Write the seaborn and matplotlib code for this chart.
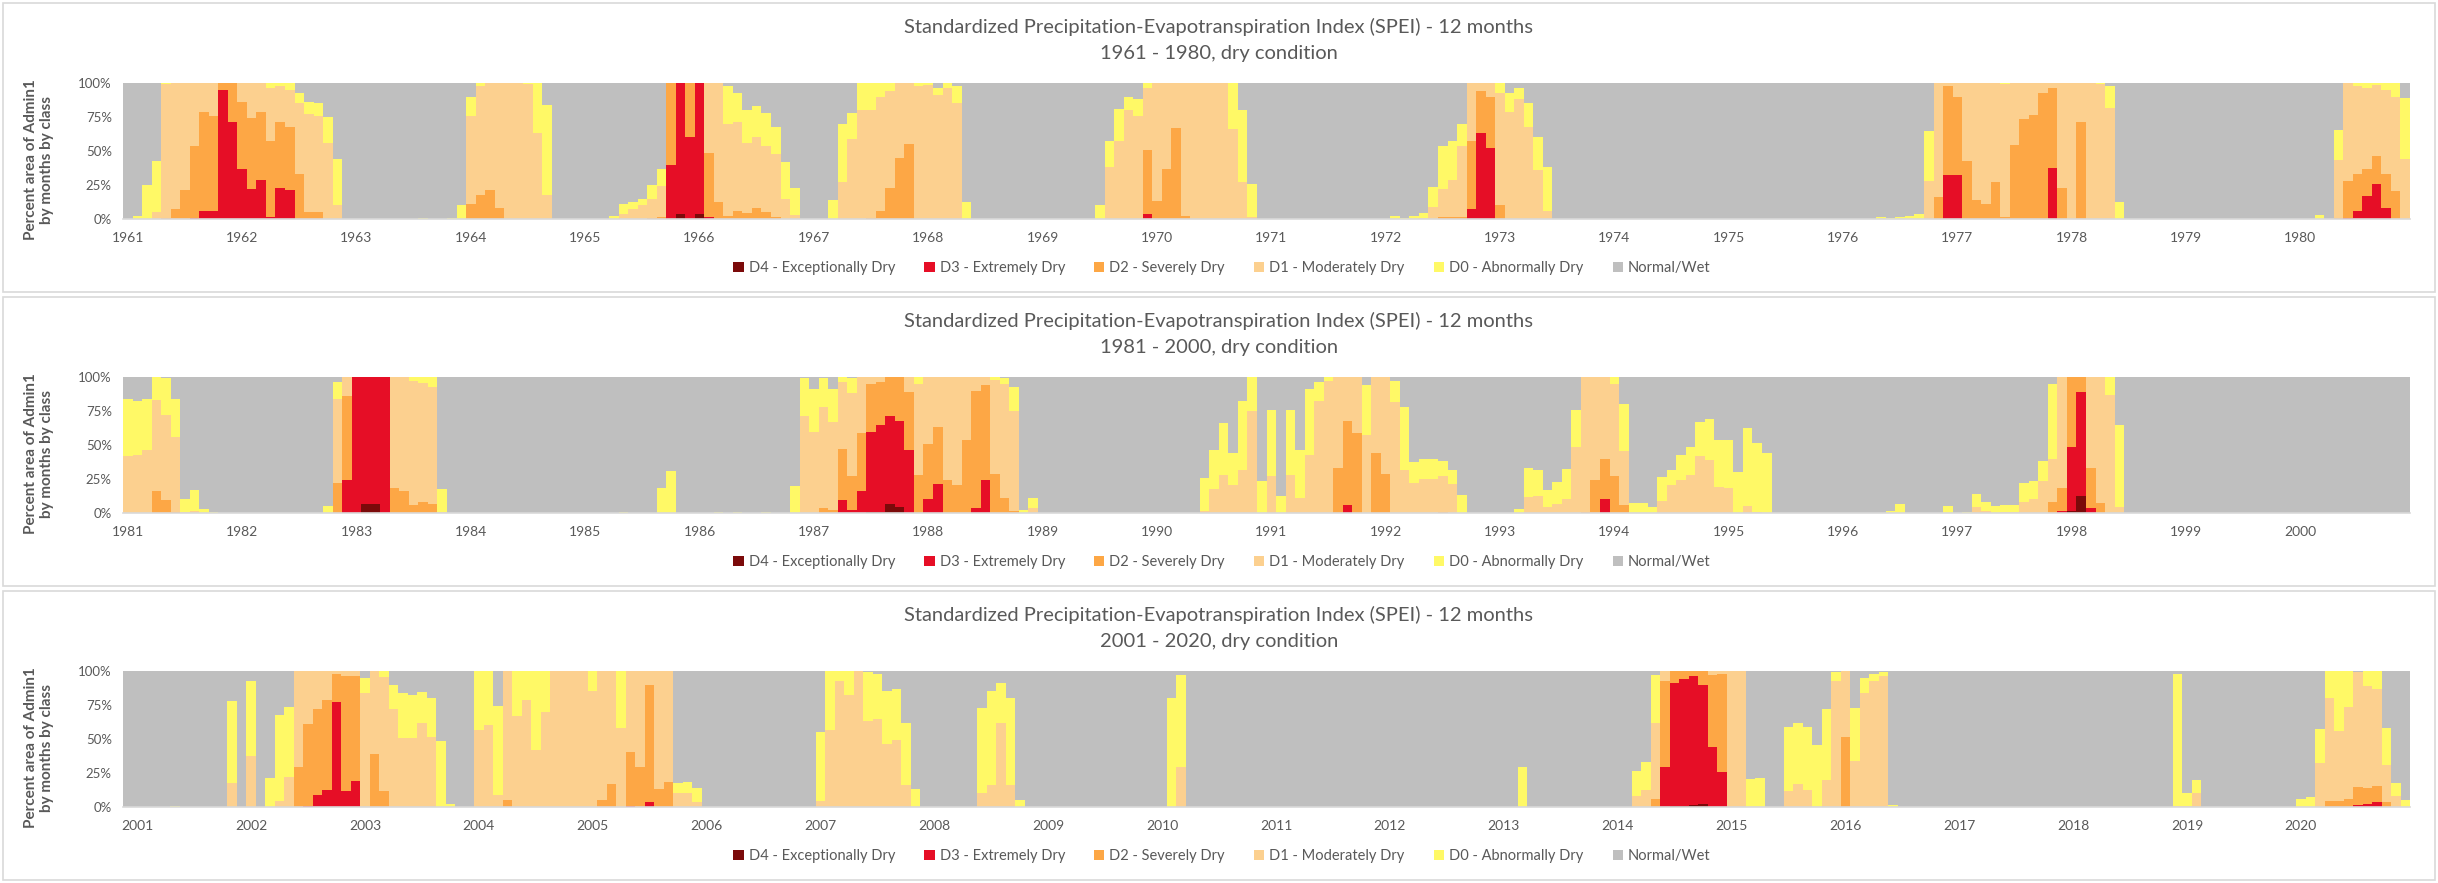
import numpy as np
import pandas as pd
import matplotlib
matplotlib.use("Agg")
import matplotlib.pyplot as plt
import seaborn as sns
from matplotlib.patches import Patch, Rectangle

# Percent of area by month. Each row: month, then share of area that is
# D0-or-drier, D1-or-drier, D2-or-drier, D3-or-drier, D4.
# Months not listed are 100% Normal/Wet.
dry_1961_1980 = [
    ("1961-02", 2, 0, 0, 0, 0), ("1961-03", 25, 0, 0, 0, 0), ("1961-04", 43, 5, 0, 0, 0),
    ("1961-05", 100, 99, 1, 0, 0), ("1961-06", 100, 100, 7, 0, 0), ("1961-07", 100, 100, 21, 0, 0),
    ("1961-08", 100, 100, 54, 1, 0), ("1961-09", 100, 100, 79, 6, 0), ("1961-10", 100, 100, 76, 6, 0),
    ("1961-11", 100, 100, 100, 95, 0), ("1961-12", 100, 100, 100, 71, 0),
    ("1962-01", 100, 100, 86, 37, 0), ("1962-02", 100, 100, 74, 22, 0), ("1962-03", 100, 100, 79, 29, 0),
    ("1962-04", 100, 96, 57, 1.5, 0), ("1962-05", 100, 98, 71, 23, 0), ("1962-06", 100, 95, 68, 21, 0),
    ("1962-07", 93, 85, 33, 0, 0), ("1962-08", 86, 77, 5, 0, 0), ("1962-09", 85, 76, 5, 0, 0),
    ("1962-10", 75, 56, 0, 0, 0), ("1962-11", 44, 10, 0, 0, 0),
    ("1963-08", 1, 0, 0, 0, 0), ("1963-11", 1, 0, 0, 0, 0), ("1963-12", 10, 0, 0, 0, 0),
    ("1964-01", 90, 76, 11, 0, 0), ("1964-02", 100, 98, 18, 0, 0), ("1964-03", 100, 100, 21, 0, 0),
    ("1964-04", 100, 100, 8, 0, 0), ("1964-05", 100, 100, 0, 0, 0), ("1964-06", 100, 100, 0, 0, 0),
    ("1964-07", 100, 99, 0, 0, 0), ("1964-08", 100, 63, 0, 0, 0), ("1964-09", 84, 18, 0, 0, 0),
    ("1965-04", 2, 0, 0, 0, 0), ("1965-05", 11, 4, 0, 0, 0), ("1965-06", 12.5, 7, 0, 0, 0),
    ("1965-07", 15, 10.5, 0, 0, 0), ("1965-08", 25, 15, 0.5, 0, 0), ("1965-09", 37, 24.5, 1.5, 0, 0),
    ("1965-10", 100, 100, 100, 40, 0), ("1965-11", 100, 100, 100, 100, 4), ("1965-12", 100, 100, 100, 60, 0),
    ("1966-01", 100, 100, 100, 100, 4), ("1966-02", 100, 100, 48.5, 1.5, 0), ("1966-03", 100, 100, 12.5, 0, 0),
    ("1966-04", 98, 70, 2, 0, 0), ("1966-05", 93, 71, 6, 0, 0), ("1966-06", 80, 56, 4.5, 0, 0),
    ("1966-07", 83, 60, 8, 0, 0), ("1966-08", 78, 54, 5, 0, 0), ("1966-09", 68, 48, 1.5, 0, 0),
    ("1966-10", 42, 15, 0, 0, 0), ("1966-11", 23, 3, 0, 0, 0),
    ("1967-03", 14, 0, 0, 0, 0), ("1967-04", 70, 27, 0, 0, 0), ("1967-05", 78, 59, 0, 0, 0),
    ("1967-06", 100, 80, 0, 0, 0), ("1967-07", 100, 80, 1, 0, 0), ("1967-08", 100, 90, 6, 0, 0),
    ("1967-09", 100, 94, 23, 0, 0), ("1967-10", 100, 100, 45, 0, 0), ("1967-11", 100, 100, 55, 0, 0),
    ("1967-12", 100, 98, 0, 0, 0),
    ("1968-01", 100, 98.5, 0, 0, 0), ("1968-02", 96, 91, 0, 0, 0), ("1968-03", 100, 96, 0, 0, 0),
    ("1968-04", 98, 85, 0, 0, 0), ("1968-05", 12.5, 0, 0, 0, 0),
    ("1969-07", 10, 0, 0, 0, 0), ("1969-08", 57, 38.5, 0, 0, 0), ("1969-09", 81, 57, 0, 0, 0),
    ("1969-10", 90, 80, 0, 0, 0), ("1969-11", 88, 76, 0, 0, 0), ("1969-12", 100, 96, 51, 4, 0),
    ("1970-01", 100, 100, 13, 0, 0), ("1970-02", 100, 100, 37, 0, 0), ("1970-03", 100, 100, 67, 0, 0),
    ("1970-04", 100, 100, 2, 0, 0), ("1970-05", 100, 100, 0, 0, 0), ("1970-06", 100, 100, 0, 0, 0),
    ("1970-07", 100, 100, 0, 0, 0), ("1970-08", 100, 100, 0, 0, 0), ("1970-09", 100, 66, 0, 0, 0),
    ("1970-10", 80, 27, 0, 0, 0), ("1970-11", 26, 1.5, 0, 0, 0),
    ("1972-02", 2, 0, 0, 0, 0), ("1972-03", 1, 0, 0, 0, 0), ("1972-04", 2, 0, 0, 0, 0),
    ("1972-05", 4.5, 1, 0, 0, 0), ("1972-06", 23.5, 9, 0, 0, 0), ("1972-07", 54, 22, 1.5, 0, 0),
    ("1972-08", 57.5, 29, 1.5, 0, 0), ("1972-09", 70, 54, 1.5, 0, 0), ("1972-10", 100, 100, 57, 7, 0),
    ("1972-11", 100, 100, 94, 63, 0), ("1972-12", 100, 100, 90, 52, 0),
    ("1973-01", 100, 93, 10, 0, 0), ("1973-02", 93, 79, 0, 0, 0), ("1973-03", 96, 88, 0, 0, 0),
    ("1973-04", 85, 68, 0, 0, 0), ("1973-05", 60, 36, 0, 0, 0), ("1973-06", 38, 6, 0, 0, 0),
    ("1976-05", 1.5, 0, 0, 0, 0), ("1976-06", 1, 0, 0, 0, 0), ("1976-07", 1.5, 0, 0, 0, 0),
    ("1976-08", 2, 0, 0, 0, 0), ("1976-09", 4, 0, 0, 0, 0), ("1976-10", 65, 28, 0, 0, 0),
    ("1976-11", 100, 100, 16, 0, 0), ("1976-12", 100, 100, 98, 32, 0),
    ("1977-01", 100, 100, 90, 32.5, 0), ("1977-02", 100, 100, 43, 0, 0), ("1977-03", 100, 100, 14, 0, 0),
    ("1977-04", 100, 100, 11, 0, 0), ("1977-05", 100, 100, 27, 0, 0), ("1977-06", 100, 99, 1.5, 0, 0),
    ("1977-07", 100, 100, 54.5, 0, 0), ("1977-08", 100, 100, 73.5, 0, 0), ("1977-09", 100, 100, 76.5, 0, 0),
    ("1977-10", 100, 100, 93, 0, 0), ("1977-11", 100, 100, 96, 37.5, 0), ("1977-12", 100, 100, 23, 0, 0),
    ("1978-01", 100, 100, 0, 0, 0), ("1978-02", 100, 100, 71, 0, 0), ("1978-03", 100, 100, 0, 0, 0),
    ("1978-04", 100, 99, 0, 0, 0), ("1978-05", 98, 81.5, 0, 0, 0), ("1978-06", 12.5, 0, 0, 0, 0),
    ("1980-03", 3, 0, 0, 0, 0), ("1980-05", 65.5, 43.5, 1, 0, 0), ("1980-06", 100, 100, 28, 1, 0),
    ("1980-07", 100, 98, 33, 6, 0), ("1980-08", 100, 96, 37, 17, 0), ("1980-09", 100, 98.5, 46, 26, 0),
    ("1980-10", 100, 95, 33, 8, 0), ("1980-11", 100, 90, 20.5, 0, 0), ("1980-12", 89, 44, 0, 0, 0),
]

dry_1981_2000 = [
    ("1981-01", 84, 42, 0, 0, 0), ("1981-02", 82, 43, 0, 0, 0), ("1981-03", 84, 46, 0, 0, 0),
    ("1981-04", 100, 83, 16, 0, 0), ("1981-05", 99, 72, 9.5, 0, 0), ("1981-06", 83.5, 56, 1, 0, 0),
    ("1981-07", 10, 1, 0, 0, 0), ("1981-08", 17, 1.5, 0, 0, 0), ("1981-09", 3, 0, 0, 0, 0),
    ("1981-10", 1, 0, 0, 0, 0),
    ("1982-10", 5, 0, 0, 0, 0), ("1982-11", 96, 83.5, 22, 0, 0), ("1982-12", 100, 100, 86, 24, 0),
    ("1983-01", 100, 100, 100, 100, 0), ("1983-02", 100, 100, 100, 100, 6.5), ("1983-03", 100, 100, 100, 100, 6.5),
    ("1983-04", 100, 100, 100, 100, 0), ("1983-05", 100, 100, 18.5, 0, 0), ("1983-06", 100, 100, 16, 0, 0),
    ("1983-07", 100, 97, 6, 0, 0), ("1983-08", 100, 95.5, 8, 0, 0), ("1983-09", 100, 92.5, 6.5, 0, 0),
    ("1983-10", 17.5, 1, 0, 0, 0),
    ("1985-05", 1, 0, 0, 0, 0), ("1985-09", 18.5, 0, 0, 0, 0), ("1985-10", 31, 0, 0, 0, 0),
    ("1986-03", 1, 0, 0, 0, 0), ("1986-05", 1, 0, 0, 0, 0), ("1986-08", 0.5, 0, 0, 0, 0),
    ("1986-11", 20, 0, 0, 0, 0), ("1986-12", 99, 71.5, 0, 0, 0),
    ("1987-01", 91, 59.5, 0, 0, 0), ("1987-02", 99, 78, 4, 0, 0), ("1987-03", 91, 67, 2, 0, 0),
    ("1987-04", 100, 96, 47, 9.5, 0), ("1987-05", 99, 88, 27, 2, 0), ("1987-06", 100, 100, 59, 16, 0),
    ("1987-07", 100, 100, 94.5, 59.5, 1), ("1987-08", 100, 100, 96, 64.5, 1), ("1987-09", 100, 100, 100, 71, 6.5),
    ("1987-10", 100, 100, 100, 68, 4.5), ("1987-11", 100, 100, 89, 46, 0), ("1987-12", 100, 94.5, 28, 0, 0),
    ("1988-01", 100, 100, 50.5, 10, 0), ("1988-02", 100, 100, 63, 21, 0), ("1988-03", 100, 100, 24, 0, 0),
    ("1988-04", 100, 100, 20.5, 0, 0), ("1988-05", 100, 100, 54, 0, 0), ("1988-06", 100, 100, 90, 3.5, 0),
    ("1988-07", 100, 100, 94, 24, 0), ("1988-08", 100, 98, 28.5, 0, 0), ("1988-09", 99, 94.5, 11, 0, 0),
    ("1988-10", 92.5, 75, 1.5, 0, 0), ("1988-11", 2, 0, 0, 0, 0), ("1988-12", 11, 3.5, 0, 0, 0),
    ("1990-06", 25.5, 1.5, 0, 0, 0), ("1990-07", 46, 17.5, 0, 0, 0), ("1990-08", 66, 28, 0, 0, 0),
    ("1990-09", 44, 20.5, 0, 0, 0), ("1990-10", 82, 31.5, 0, 0, 0), ("1990-11", 100, 75, 0, 0, 0),
    ("1990-12", 23.5, 0, 0, 0, 0),
    ("1991-01", 75.5, 27, 0, 0, 0), ("1991-02", 12.5, 0, 0, 0, 0), ("1991-03", 76, 28, 0, 0, 0),
    ("1991-04", 46, 11, 0, 0, 0), ("1991-05", 91, 43, 0, 0, 0), ("1991-06", 96, 82, 0, 0, 0),
    ("1991-07", 100, 97, 0, 0, 0), ("1991-08", 100, 100, 33, 0, 0), ("1991-09", 100, 100, 68, 6, 0),
    ("1991-10", 100, 100, 59, 0, 0), ("1991-11", 94, 57, 0, 0, 0), ("1991-12", 100, 100, 44, 0, 0),
    ("1992-01", 100, 100, 29, 0, 0), ("1992-02", 97, 81.5, 0, 0, 0), ("1992-03", 78, 31.5, 0, 0, 0),
    ("1992-04", 37.5, 22, 0, 0, 0), ("1992-05", 40, 25, 0, 0, 0), ("1992-06", 40, 25, 0, 0, 0),
    ("1992-07", 38, 27, 1, 0, 0), ("1992-08", 31.5, 21, 0, 0, 0), ("1992-09", 13, 0, 0, 0, 0),
    ("1993-03", 3, 0, 0, 0, 0), ("1993-04", 33, 12, 0, 0, 0), ("1993-05", 31.5, 12.5, 0, 0, 0),
    ("1993-06", 17, 4.5, 0, 0, 0), ("1993-07", 23, 6.5, 0, 0, 0), ("1993-08", 32, 10, 0, 0, 0),
    ("1993-09", 75.5, 48.5, 0, 0, 0), ("1993-10", 100, 100, 1, 0, 0), ("1993-11", 100, 100, 24, 0, 0),
    ("1993-12", 100, 100, 40, 10, 0),
    ("1994-01", 100, 94.5, 27, 0, 0), ("1994-02", 80.5, 45.5, 6, 0, 0), ("1994-03", 7.5, 0, 0, 0, 0),
    ("1994-04", 7.5, 0, 0, 0, 0), ("1994-05", 4.5, 0, 0, 0, 0), ("1994-06", 26.5, 9, 0, 0, 0),
    ("1994-07", 31.5, 20.5, 0, 0, 0), ("1994-08", 42.5, 24, 0, 0, 0), ("1994-09", 48.5, 28, 0, 0, 0),
    ("1994-10", 67, 42, 0, 0, 0), ("1994-11", 69, 39, 0, 0, 0), ("1994-12", 53.5, 19, 0, 0, 0),
    ("1995-01", 53.5, 18.5, 0, 0, 0), ("1995-02", 30, 0, 0, 0, 0), ("1995-03", 62.5, 5, 0, 0, 0),
    ("1995-04", 51.5, 1, 0, 0, 0), ("1995-05", 44, 0, 0, 0, 0),
    ("1996-06", 1.5, 0, 0, 0, 0), ("1996-07", 6.5, 0, 0, 0, 0), ("1996-12", 5, 0, 0, 0, 0),
    ("1997-02", 1, 0, 0, 0, 0), ("1997-03", 14, 4.5, 0, 0, 0), ("1997-04", 8, 1.5, 0, 0, 0),
    ("1997-05", 5, 0, 0, 0, 0), ("1997-06", 6, 1, 0, 0, 0), ("1997-07", 6, 1, 0, 0, 0),
    ("1997-08", 22, 8, 0, 0, 0), ("1997-09", 23.5, 10, 0, 0, 0), ("1997-10", 38, 23.5, 0, 0, 0),
    ("1997-11", 94.5, 40, 8, 0, 0), ("1997-12", 100, 100, 18.5, 1.5, 0),
    ("1998-01", 100, 100, 100, 48.5, 1.5), ("1998-02", 100, 100, 100, 89, 12.5), ("1998-03", 100, 100, 33, 3.5, 0),
    ("1998-04", 100, 100, 7.5, 0, 0), ("1998-05", 100, 86.5, 0, 0, 0), ("1998-06", 64.5, 4.5, 0, 0, 0),
]

dry_2001_2020 = [
    ("2001-05", 0.5, 0, 0, 0, 0), ("2001-11", 78, 18, 0, 0, 0),
    ("2002-01", 93, 37.5, 0, 0, 0), ("2002-03", 21.5, 0, 0, 0, 0), ("2002-04", 68, 4.5, 0, 0, 0),
    ("2002-05", 73.5, 22, 0, 0, 0), ("2002-06", 100, 100, 29.5, 0, 0), ("2002-07", 100, 100, 61, 1, 0),
    ("2002-08", 100, 100, 72, 8.5, 0), ("2002-09", 100, 100, 79, 12.5, 0), ("2002-10", 100, 100, 97.5, 77, 0),
    ("2002-11", 100, 100, 96, 12, 0), ("2002-12", 100, 100, 96, 19, 0),
    ("2003-01", 94.5, 83.5, 0, 0, 0), ("2003-02", 100, 100, 39, 0, 0), ("2003-03", 100, 95.5, 12, 0, 0),
    ("2003-04", 90, 72, 0, 0, 0), ("2003-05", 83.5, 51, 0, 0, 0), ("2003-06", 82, 51, 0, 0, 0),
    ("2003-07", 84.5, 61.5, 0, 0, 0), ("2003-08", 80, 51.5, 0, 0, 0), ("2003-09", 48.5, 0, 0, 0, 0),
    ("2003-10", 2.5, 0, 0, 0, 0),
    ("2004-01", 100, 56.5, 0, 0, 0), ("2004-02", 100, 60, 0, 0, 0), ("2004-03", 74, 9, 0, 0, 0),
    ("2004-04", 100, 100, 5.5, 0, 0), ("2004-05", 100, 67, 0, 0, 0), ("2004-06", 100, 79, 0, 0, 0),
    ("2004-07", 100, 42, 0, 0, 0), ("2004-08", 100, 70, 0, 0, 0), ("2004-09", 100, 100, 0, 0, 0),
    ("2004-10", 100, 100, 0, 0, 0), ("2004-11", 100, 100, 0, 0, 0), ("2004-12", 100, 100, 0, 0, 0),
    ("2005-01", 100, 85, 0, 0, 0), ("2005-02", 100, 100, 5, 0, 0), ("2005-03", 100, 100, 17, 0, 0),
    ("2005-04", 100, 58, 0, 0, 0), ("2005-05", 100, 100, 40.5, 1, 0), ("2005-06", 100, 100, 29.5, 0, 0),
    ("2005-07", 100, 100, 89.5, 4, 0), ("2005-08", 100, 100, 13.5, 0, 0), ("2005-09", 100, 100, 18.5, 0, 0),
    ("2005-10", 18, 10, 0, 0, 0), ("2005-11", 18.5, 10, 0, 0, 0), ("2005-12", 14, 4, 0, 0, 0),
    ("2007-01", 55, 4.5, 0, 0, 0), ("2007-02", 100, 56.5, 0, 0, 0), ("2007-03", 100, 93, 0, 0, 0),
    ("2007-04", 100, 82, 0, 0, 0), ("2007-05", 100, 100, 0, 0, 0), ("2007-06", 99, 63, 0, 0, 0),
    ("2007-07", 98, 64.5, 0, 0, 0), ("2007-08", 85, 46, 0, 0, 0), ("2007-09", 87, 49, 0, 0, 0),
    ("2007-10", 62, 16, 0, 0, 0), ("2007-11", 13, 0, 0, 0, 0),
    ("2008-06", 72.5, 10, 0, 0, 0), ("2008-07", 85, 16, 0, 0, 0), ("2008-08", 91.5, 62, 0, 0, 0),
    ("2008-09", 80.5, 16, 0, 0, 0), ("2008-10", 5, 0, 0, 0, 0),
    ("2010-02", 80.5, 0, 0, 0, 0), ("2010-03", 97, 29.5, 0, 0, 0),
    ("2013-03", 29.5, 0, 0, 0, 0),
    ("2014-03", 26.5, 8, 0, 0, 0), ("2014-04", 33, 12.5, 0, 0, 0), ("2014-05", 97, 62, 6, 0, 0),
    ("2014-06", 100, 100, 92.5, 29.5, 0), ("2014-07", 100, 100, 100, 91.5, 1), ("2014-08", 100, 100, 100, 94, 1),
    ("2014-09", 100, 100, 100, 96, 1.5), ("2014-10", 100, 100, 100, 90, 2.5), ("2014-11", 100, 100, 97, 44, 0),
    ("2014-12", 100, 100, 98, 26, 0),
    ("2015-01", 100, 100, 0, 0, 0), ("2015-02", 100, 100, 0, 0, 0), ("2015-03", 20.5, 0, 0, 0, 0),
    ("2015-04", 21.5, 0, 0, 0, 0), ("2015-07", 59, 12, 0, 0, 0), ("2015-08", 61.5, 17, 0, 0, 0),
    ("2015-09", 59, 12.5, 0, 0, 0), ("2015-10", 45.5, 0, 0, 0, 0), ("2015-11", 72, 20, 0, 0, 0),
    ("2015-12", 99, 93, 0, 0, 0),
    ("2016-01", 100, 100, 51.5, 0, 0), ("2016-02", 72.5, 34, 0, 0, 0), ("2016-03", 94.5, 83.5, 0, 0, 0),
    ("2016-04", 97.5, 93, 0, 0, 0), ("2016-05", 99, 96, 0, 0, 0), ("2016-06", 1.5, 0, 0, 0, 0),
    ("2018-12", 97.5, 1, 0, 0, 0),
    ("2019-01", 10, 0.5, 0, 0, 0), ("2019-02", 20, 10, 0, 0, 0),
    ("2020-01", 6, 0, 0, 0, 0), ("2020-02", 7.5, 0, 0, 0, 0), ("2020-03", 57, 32, 0, 0, 0),
    ("2020-04", 100, 80, 4.5, 0, 0), ("2020-05", 100, 56, 4.5, 0, 0), ("2020-06", 100, 73.5, 6, 0, 0),
    ("2020-07", 99, 99, 15, 1.5, 0), ("2020-08", 100, 89, 14, 2.5, 0), ("2020-09", 100, 87, 15.5, 4, 0),
    ("2020-10", 58, 31, 4, 0, 0), ("2020-11", 18, 8, 0, 0, 0), ("2020-12", 5.5, 0, 0, 0, 0),
]

classes = ["D4 - Exceptionally Dry", "D3 - Extremely Dry", "D2 - Severely Dry",
           "D1 - Moderately Dry", "D0 - Abnormally Dry", "Normal/Wet"]
colors = ["#7B0A0A", "#E60E26", "#FDA745", "#FCD08F", "#FFF966", "#BFBFBF"]
palette = dict(zip(classes, colors))

panels = [
    (dry_1961_1980, 1961, 1980, None, "1961 - 1980, dry condition"),
    (dry_1981_2000, 1981, 2000, None, "1981 - 2000, dry condition"),
    (dry_2001_2020, 2001, 2020, "2000-12", "2001 - 2020, dry condition"),
]
title_main = "Standardized Precipitation-Evapotranspiration Index (SPEI) - 12 months"


def panel_frame(rows, y0, y1, lead):
    keys = ([lead] if lead else []) + [f"{y}-{m:02d}" for y in range(y0, y1 + 1) for m in range(1, 13)]
    lookup = {r[0]: r[1:] for r in rows}
    recs = []
    for k, key in enumerate(keys):
        vals = lookup.get(key, (0, 0, 0, 0, 0))
        recs.append((k, "Normal/Wet", 100.0))
        # D0 cumulative first, D4 last -> drawn on top
        for name, v in zip(classes[4::-1], vals):
            recs.append((k, name, float(v)))
    return pd.DataFrame(recs, columns=["k", "cls", "pct"]), keys


sns.set_theme(style="white")
plt.rcParams["font.family"] = ["Lato", "DejaVu Sans"]
txt = "#595959"

W, H = 2438, 883
fig = plt.figure(figsize=(W / 100, H / 100), dpi=100)

for i, (rows, y0, y1, lead, subtitle) in enumerate(panels):
    dy = 294 * i
    df, keys = panel_frame(rows, y0, y1, lead)
    n = len(keys)

    # chart frame
    fig.add_artist(Rectangle((3 / W, 1 - (292 + dy) / H), 2432 / W, 289 / H,
                             transform=fig.transFigure, fill=False,
                             edgecolor="#D9D9D9", linewidth=1.2))

    ax = fig.add_axes([123 / W, 1 - (219 + dy) / H, (2410 - 123) / W, 136 / H])
    sns.barplot(data=df, x="k", y="pct", hue="cls", order=list(range(n)),
                hue_order=classes[::-1], palette=palette, dodge=False, width=1.0,
                errorbar=None, saturation=1, linewidth=0, legend=False, ax=ax)

    ax.set_xlim(-0.5, n - 0.5)
    ax.set_ylim(0, 100)
    ax.set_xlabel("")
    ax.set_ylabel("")
    for s in ["top", "right", "left"]:
        ax.spines[s].set_visible(False)
    ax.spines["bottom"].set_color("#D9D9D9")
    ax.spines["bottom"].set_linewidth(1.2)

    jan = [keys.index(f"{y}-01") for y in range(y0, y1 + 1)]
    ax.set_xticks(jan)
    ax.set_xticklabels([str(y) for y in range(y0, y1 + 1)], fontsize=10, color=txt)
    ax.set_xticks(np.arange(-0.5, n, 1), minor=True)
    ax.tick_params(axis="x", which="major", length=0, pad=9)
    ax.tick_params(axis="x", which="minor", length=4, width=0.8, color="#BFBFBF", direction="out")
    ax.set_yticks([0, 25, 50, 75, 100])
    ax.set_yticklabels(["0%", "25%", "50%", "75%", "100%"], fontsize=9.5, color=txt)
    ax.tick_params(axis="y", length=0, pad=8)

    fig.text(0.5, 1 - (27 + dy) / H, title_main, ha="center", va="center", fontsize=14.5, color=txt)
    fig.text(0.5, 1 - (53 + dy) / H, subtitle, ha="center", va="center", fontsize=14.5, color=txt)
    fig.text(39 / W, 1 - (160 + dy) / H, "Percent area of Admin1\nby months by class",
             rotation=90, ha="center", va="center", fontsize=11, fontweight="bold",
             color=txt, multialignment="center", linespacing=1.2)

    handles = [Patch(facecolor=palette[c], edgecolor="none") for c in classes]
    fig.legend(handles, classes, loc="center", bbox_to_anchor=(1222 / W, 1 - (268 + dy) / H),
               ncol=6, frameon=False, fontsize=10.5, handlelength=0.7, handleheight=0.7,
               handletextpad=0.35, columnspacing=2.0, labelcolor=txt)

fig.savefig("out.png", dpi=100)
